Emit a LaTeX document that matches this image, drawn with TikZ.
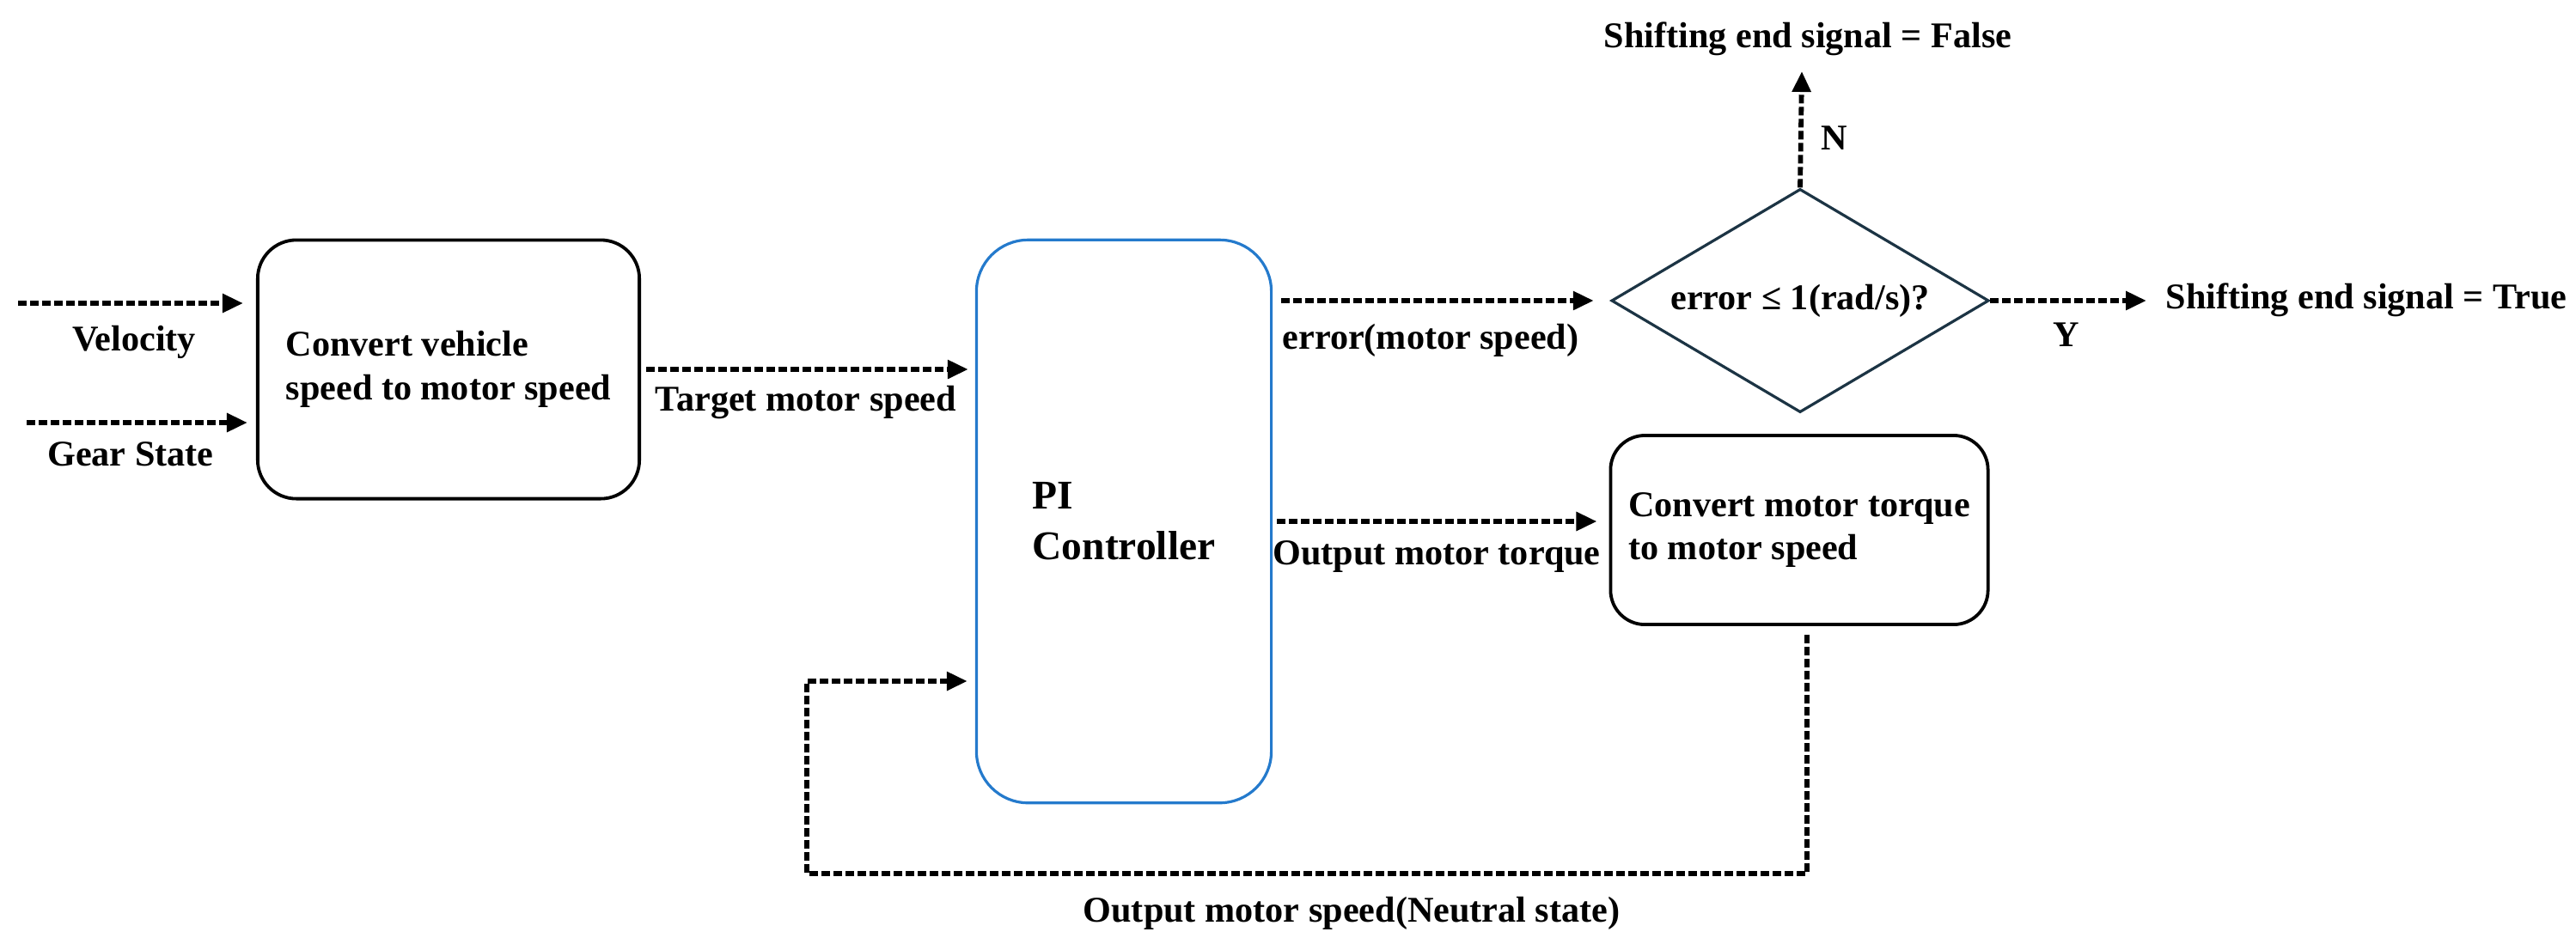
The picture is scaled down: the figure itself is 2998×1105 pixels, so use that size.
\documentclass[tikz,border=0pt]{standalone}
\usepackage{fontspec}
\setmainfont{Liberation Serif}
\usetikzlibrary{arrows.meta,shapes.geometric}
\definecolor{piblue}{RGB}{36,122,204}
\definecolor{dslate}{RGB}{28,52,68}
\begin{document}
\begin{tikzpicture}[x=0.01cm,y=-0.01cm,
  lbl/.style={font=\bfseries\fontsize{12}{14.5}\selectfont, inner sep=0pt},
  flow/.style={line width=0.058cm, dash pattern=on 0.1cm off 0.04cm,
    -{Triangle[length=0.24cm,width=0.21cm]}},
  rbox/.style={draw=black, line width=0.038cm, rounded corners=0.45cm,
    align=left, inner sep=0pt, font=\bfseries\fontsize{12}{14.5}\selectfont},
]
\useasboundingbox (0,0) rectangle (2998,1105);

% blocks
\node[rbox, minimum width=4.44cm, minimum height=3.01cm] (box1) at (522,430)
  {Convert vehicle\\speed to motor speed};
\node[draw=piblue, line width=0.032cm, rounded corners=0.6cm, align=left, inner sep=0pt,
  minimum width=3.43cm, minimum height=6.55cm,
  font=\bfseries\fontsize{13.5}{16.7}\selectfont] (pi) at (1308,607)
  {PI\\Controller};
\node[diamond, aspect=1.69, draw=dslate, line width=0.032cm, minimum width=4.39cm, minimum height=2.6cm,
  inner sep=0pt, lbl] (d) at (2095,350) {error ≤ 1(rad/s)?};
\node[rbox, rounded corners=0.4cm, minimum width=4.39cm, minimum height=2.2cm] (box2) at (2094,617)
  {Convert motor torque\\to motor speed};

% free ends
\coordinate (vIn) at (21,353);
\coordinate (gIn) at (31,492);
\coordinate (nTip) at (2097,83);
\coordinate (yTip) at (2498,350);
\coordinate (fbB) at (939,1017);
\coordinate (fbC) at (939,793);

% labels
\node[lbl] (lvel) at (156,398) {Velocity};
\node[lbl] (lgear) at (152,529) {Gear State};
\node[lbl] (ltarget) at (938,468) {Target motor speed};
\node[lbl] (lerr) at (1665,396) {error(motor speed)};
\node[lbl] (ltorque) at (1672,648) {Output motor torque};
\node[lbl] (lN) at (2135,161) {N};
\node[lbl] (lY) at (2405,390) {Y};
\node[lbl] (lfalse) at (2104,45) {Shifting end signal = False};
\node[lbl] (ltrue) at (2754,349) {Shifting end signal = True};
\node[lbl] (lfb) at (1573,1063) {Output motor speed(Neutral state)};

% connectors
\draw[flow, shorten >=0.15cm] (vIn) -- (vIn -| box1.west);
\draw[flow, shorten >=0.10cm] (gIn) -- (gIn -| box1.west);
\draw[flow, shorten <=0.06cm, shorten >=0.08cm] (box1.east) -- (box1.east -| pi.west);
\draw[flow, shorten <=0.10cm, shorten >=0.19cm] (d.west -| pi.east) -- (d.west);
\draw[flow, shorten <=0.05cm, shorten >=0.14cm] (pi.east) -- (pi.east -| box2.west);
\draw[flow] (d.north) -- (nTip);
\draw[flow] (d.east) -- (yTip);
\draw[flow, shorten <=0.1cm, shorten >=0.09cm]
  ([xshift=0.09cm]box2.south) |- (fbB) -- (fbC) -- (fbC -| pi.west);
\end{tikzpicture}
\end{document}
